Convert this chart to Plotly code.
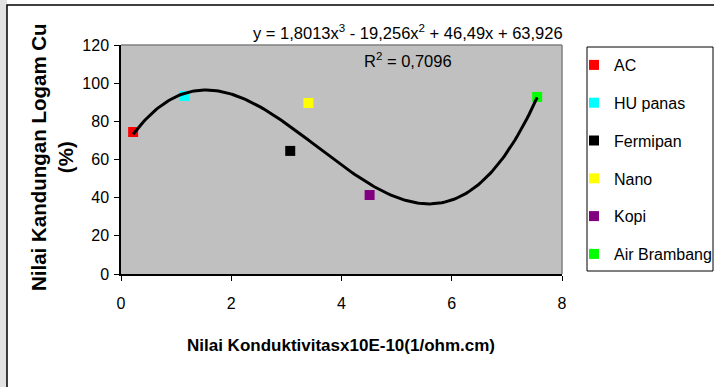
import numpy as np
import plotly.graph_objects as go

# ---- data ----
names = ["AC", "HU panas", "Fermipan", "Nano", "Kopi", "Air Brambang"]
conductivity = [0.22, 1.15, 3.07, 3.40, 4.51, 7.55]
cu_content = [74.4, 93.3, 64.5, 89.6, 41.4, 92.8]
colors = ["#FF0000", "#00FFFF", "#000000", "#FFFF00", "#800080", "#00FF00"]

# polynomial trendline coefficients as printed on the chart (x^3, x^2, x, 1)
trend_coef = [1.8013, -19.256, 46.49, 63.926]
r_squared = "0,7096"

x_ticks = [0, 2, 4, 6, 8]
y_ticks = [0, 20, 40, 60, 80, 100, 120]

SANS = "Liberation Sans, Arial, sans-serif"

fig = go.Figure()

for n, x, y, c in zip(names, conductivity, cu_content, colors):
    fig.add_trace(go.Scatter(
        x=[x], y=[y], mode="markers", name=n, legendgroup=n,
        marker=dict(symbol="square", size=10, color=c, line=dict(width=0)),
    ))

xs = np.linspace(min(conductivity), max(conductivity), 200)
fig.add_trace(go.Scatter(
    x=xs, y=np.polyval(trend_coef, xs), mode="lines",
    line=dict(color="black", width=3), showlegend=False, hoverinfo="skip",
))

W, H = 714, 387
L, R, T, B = 121, 152, 45, 113
pw, ph = W - L - R, H - T - B

def px(x):
    return (x - L) / pw

def py(y):
    return (H - B - y) / ph

eq = "y = 1,8013x<sup>3</sup> - 19,256x<sup>2</sup> + 46,49x + 63,926"

fig.update_layout(
    width=W, height=H,
    margin=dict(l=L, r=R, t=T, b=B, pad=0, autoexpand=False),
    paper_bgcolor="white",
    plot_bgcolor="#C0C0C0",
    font=dict(family=SANS, size=16, color="black"),
    xaxis=dict(
        range=[0, 8], tickvals=x_ticks, showgrid=False, zeroline=False,
        showline=True, linecolor="black", linewidth=1.5,
        ticks="outside", ticklen=5, tickcolor="black", tickwidth=1,
        tickfont=dict(family=SANS, size=16), ticklabelstandoff=9,
    ),
    yaxis=dict(
        range=[0, 120], tickvals=y_ticks, showgrid=False, zeroline=False,
        showline=True, linecolor="black", linewidth=1.5,
        ticks="outside", ticklen=5, tickcolor="black", tickwidth=1,
        tickfont=dict(family=SANS, size=16), ticklabelstandoff=2,
    ),
    legend=dict(
        x=px(574), y=py(48), xanchor="left", yanchor="top",
        bgcolor="rgba(0,0,0,0)", borderwidth=0,
        font=dict(family=SANS, size=16),
        tracegroupgap=14, itemwidth=30,
    ),
    shapes=[
        # light strip at far left
        dict(type="rect", xref="paper", yref="paper",
             x0=px(-2), x1=px(7), y0=py(392), y1=py(-2),
             fillcolor="#E2E2E2", line=dict(width=0), layer="below"),
        # outer chart frame
        dict(type="rect", xref="paper", yref="paper",
             x0=px(7), x1=px(720), y0=py(392), y1=py(5),
             line=dict(color="black", width=1.5), layer="below"),
        # legend box
        dict(type="rect", xref="paper", yref="paper",
             x0=px(587), x1=px(713), y0=py(271), y1=py(47),
             fillcolor="white", line=dict(color="black", width=1), layer="below"),
        # plot-area top/right border (gray)
        dict(type="line", xref="paper", yref="paper", x0=0, x1=1, y0=1, y1=1,
             line=dict(color="#808080", width=1.5)),
        dict(type="line", xref="paper", yref="paper", x0=1, x1=1, y0=0, y1=1,
             line=dict(color="#808080", width=1.5)),
    ],
    annotations=[
        dict(text=eq, xref="paper", yref="paper", x=px(408), y=py(32),
             xanchor="center", yanchor="middle", showarrow=False,
             font=dict(family=SANS, size=16.5)),
        dict(text="R<sup>2</sup> = " + r_squared, xref="paper", yref="paper",
             x=px(408), y=py(60), xanchor="center", yanchor="middle",
             showarrow=False, font=dict(family=SANS, size=16.5)),
        dict(text="<b>Nilai Konduktivitasx10E-10(1/ohm.cm)</b>", xref="paper", yref="paper",
             x=px(341), y=py(345), xanchor="center", yanchor="middle",
             showarrow=False, font=dict(family=SANS, size=17)),
        dict(text="<b>Nilai Kandungan Logam Cu<br>(%)</b>", xref="paper", yref="paper",
             x=px(52), y=py(157), xanchor="center", yanchor="middle", textangle=-90,
             showarrow=False, font=dict(family=SANS, size=20.5)),
    ],
)

fig.write_html("out.html")
